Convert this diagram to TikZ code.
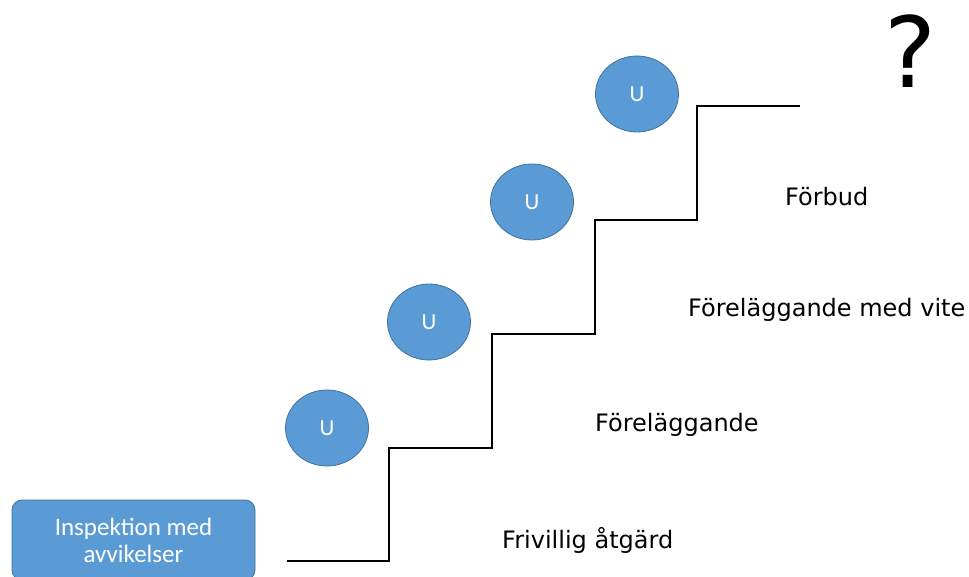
\documentclass[tikz,border=0pt]{standalone}
\usepackage{fontspec}
\usetikzlibrary{shapes.geometric}
\setmainfont{DejaVu Sans}
\newfontfamily\boxfont{Carlito}
\definecolor{ublue}{HTML}{5B9BD5}
\definecolor{uedge}{HTML}{41719C}
\begin{document}
\begin{tikzpicture}[x=1pt,y=-1pt,
  ubub/.style={ellipse, draw=uedge, fill=ublue, line width=0.8pt, minimum width=83pt, minimum height=76pt, inner sep=0pt, text=white, font=\boxfont\fontsize{23}{26}\selectfont},
  lbl/.style={anchor=west, inner sep=0pt, font=\fontsize{24}{28}\selectfont},
  stair/.style={draw=black, line width=1.6pt}]
\useasboundingbox (0,0) rectangle (969,577);
\node[draw=uedge, fill=ublue, rounded corners=10pt, line width=0.8pt, minimum width=243pt, minimum height=80pt, inner sep=0pt, text=white, align=center, font=\boxfont\fontsize{25}{27}\selectfont] (box) at (133.5,540) {Inspektion med\\avvikelser};
\node[ubub] (u1) at (327,428) {U};
\node[ubub] (u2) at (429,322) {U};
\node[ubub] (u3) at (532,202) {U};
\node[ubub] (u4) at (637,94) {U};
\coordinate (s0) at (287,561);
\coordinate (s1) at (389,561);
\coordinate (s2) at (389,448);
\coordinate (s3) at (492,448);
\coordinate (s4) at (492,334);
\coordinate (s5) at (595,334);
\coordinate (s6) at (595,220);
\coordinate (s7) at (697,220);
\coordinate (s8) at (697,106);
\coordinate (s9) at (800,106);
\draw[stair] (s0) -- (s1) -- (s2) -- (s3) -- (s4) -- (s5) -- (s6) -- (s7) -- (s8) -- (s9);
\node[lbl] (t1) at (502,540) {Frivillig åtgärd};
\node[lbl] (t2) at (595,425) {Föreläggande};
\node[lbl] (t3) at (688,310) {Föreläggande med vite};
\node[lbl] (t4) at (785,197) {Förbud};
\node[inner sep=0pt, font=\fontsize{98}{108}\selectfont] (q) at (910,51) {?};
\end{tikzpicture}
\end{document}
